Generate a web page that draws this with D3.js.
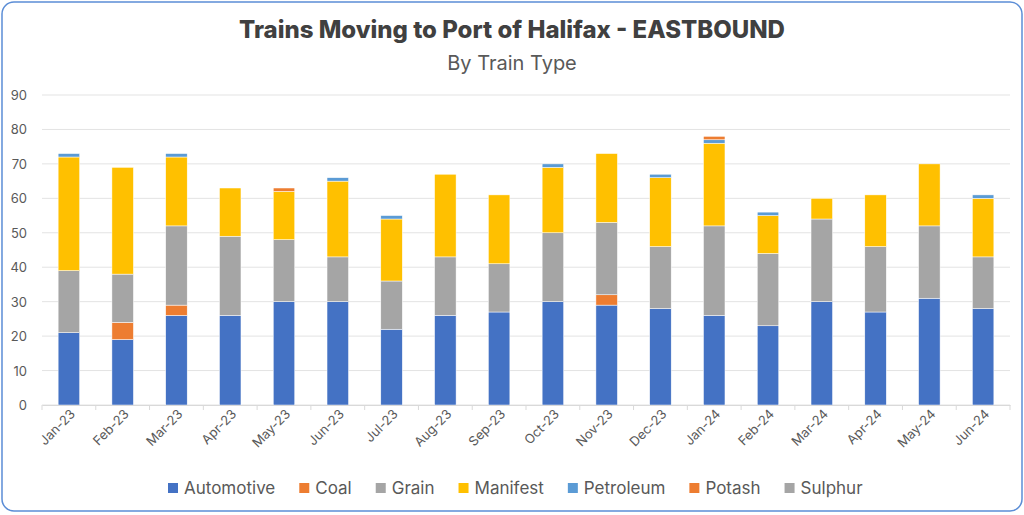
<!DOCTYPE html>
<html><head><meta charset="utf-8">
<script src="https://cdn.jsdelivr.net/npm/d3@7"></script>
<style>body{margin:0;background:#fff;font-family:"Inter","Open Sans",sans-serif}</style>
</head><body><div id="vis"></div>
<script>
const months = ["Jan-23","Feb-23","Mar-23","Apr-23","May-23","Jun-23","Jul-23","Aug-23","Sep-23","Oct-23","Nov-23","Dec-23","Jan-24","Feb-24","Mar-24","Apr-24","May-24","Jun-24"];
const automotive = [21,19,26,26,30,30,22,26,27,30,29,28,26,23,30,27,31,28];
const coal       = [0,5,3,0,0,0,0,0,0,0,3,0,0,0,0,0,0,0];
const grain      = [18,14,23,23,18,13,14,17,14,20,21,18,26,21,24,19,21,15];
const manifest   = [33,31,20,14,14,22,18,24,20,19,20,20,24,11,6,15,18,17];
const petroleum  = [1,0,1,0,0,1,1,0,0,1,0,1,1,1,0,0,0,1];
const potash     = [0,0,0,0,1,0,0,0,0,0,0,0,1,0,0,0,0,0];
const sulphur    = [0,0,0,0,0,0,0,0,0,0,0,0,0,0,0,0,0,0];
const yTicks = [0,10,20,30,40,50,60,70,80,90];

const series = [
  {key:"Automotive", vals:automotive, color:"#4472C4"},
  {key:"Coal", vals:coal, color:"#ED7D31"},
  {key:"Grain", vals:grain, color:"#A5A5A5"},
  {key:"Manifest", vals:manifest, color:"#FFC000"},
  {key:"Petroleum", vals:petroleum, color:"#5B9BD5"},
  {key:"Potash", vals:potash, color:"#ED7D31"},
  {key:"Sulphur", vals:sulphur, color:"#A5A5A5"}
];
const rows = months.map((m,i) => { const r = {month:m}; series.forEach(s => r[s.key] = s.vals[i]); return r; });

const W = 1024, H = 515;
const svg = d3.select("#vis").append("svg").attr("width", W).attr("height", H);
svg.append("rect").attr("x",2).attr("y",2).attr("width",W-4).attr("height",H-6)
  .attr("rx",12).attr("fill","#fff").attr("stroke","#5B8DD6").attr("stroke-width",1.5);

svg.append("text").attr("x",W/2).attr("y",38).attr("text-anchor","middle")
  .style("font-size","24px").style("font-weight","800").attr("fill","#404040")
  .text("Trains Moving to Port of Halifax - EASTBOUND");
svg.append("text").attr("x",W/2).attr("y",70).attr("text-anchor","middle")
  .style("font-size","20px").attr("fill","#595959").text("By Train Type");

const margin = {left:42, right:14, top:95, bottom:110};
const x = d3.scaleBand().domain(months).range([margin.left, W-margin.right]).paddingInner(0.6).paddingOuter(0.3);
const y = d3.scaleLinear().domain([0,90]).range([405,95]);

svg.append("g").selectAll("line").data(yTicks).join("line")
  .attr("x1",margin.left).attr("x2",W-margin.right).attr("y1",d=>y(d)).attr("y2",d=>y(d))
  .attr("stroke","#e3e3e3");
svg.append("g").selectAll("text").data(yTicks).join("text")
  .attr("x",27).attr("y",d=>y(d)+5).attr("text-anchor","end")
  .style("font-size","13px").attr("fill","#595959").text(d=>d);

const stack = d3.stack().keys(series.map(s=>s.key))(rows);
svg.append("g").selectAll("g").data(stack).join("g")
  .attr("fill",(d,i)=>series[i].color)
  .selectAll("rect").data(d=>d).join("rect")
  .attr("x",d=>x(d.data.month)).attr("width",x.bandwidth())
  .attr("y",d=>y(d[1])).attr("height",d=>y(d[0])-y(d[1]))
  .attr("stroke","#fff").attr("stroke-width",0.5);

const ax = svg.append("g").attr("transform","translate(0,405)")
  .call(d3.axisBottom(x).tickSize(0).tickPadding(10));
ax.select(".domain").attr("stroke","#d9d9d9");
ax.selectAll(".sep").data(d3.range(months.length+1)).join("line")
  .attr("x1",i=>margin.left+i*(W-margin.right-margin.left)/months.length)
  .attr("x2",i=>margin.left+i*(W-margin.right-margin.left)/months.length)
  .attr("y1",0).attr("y2",5).attr("stroke","#d9d9d9");
ax.selectAll(".tick text").attr("transform","rotate(-45)").style("text-anchor","end")
  .attr("dx","-2").attr("dy","2").style("font-size","13px").attr("fill","#595959")
  .style("font-family","Inter,sans-serif");

const legend = svg.append("g").attr("transform","translate(168,494)");
let lx = 0;
series.forEach(s => {
  const g = legend.append("g").attr("transform",`translate(${lx},0)`);
  g.append("rect").attr("x",0).attr("y",-11).attr("width",10).attr("height",10).attr("fill",s.color);
  const t = g.append("text").attr("x",16).attr("y",0).style("font-size","17px").attr("fill","#595959").text(s.key);
  lx += 16 + t.node().getComputedTextLength() + 24;
});
</script></body></html>
